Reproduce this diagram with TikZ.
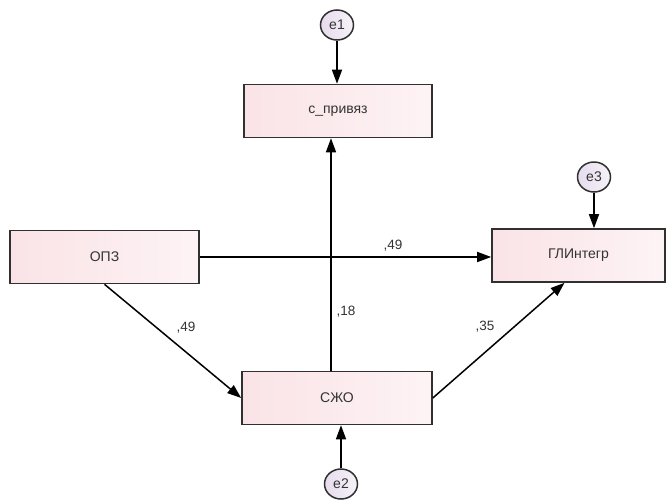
\documentclass[tikz,border=0pt]{standalone}
\usepackage{fontspec}
\setmainfont{Liberation Sans}
\usetikzlibrary{arrows.meta,shapes.geometric}
\definecolor{boxL}{HTML}{FAE3E6}
\definecolor{boxR}{HTML}{FDF3F5}
\definecolor{circL}{HTML}{E6DCEE}
\definecolor{circR}{HTML}{F6F2F8}
\definecolor{edge}{HTML}{303030}
\definecolor{txt}{HTML}{333333}
\tikzset{
  varbox/.style={draw=edge, line width=1.6pt, left color=boxL, right color=boxR,
    minimum width=#1, minimum height=53pt, inner sep=0pt, font=\fontsize{14}{16}\selectfont, text=txt},
  errnode/.style={ellipse, draw=edge, line width=1.5pt, left color=circL, right color=circR,
    minimum width=33pt, minimum height=30pt, inner sep=0pt, font=\fontsize{14}{16}\selectfont, text=txt},
  conn/.style={line width=1.5pt, -{Triangle[length=14pt,width=10pt]}},
  wlab/.style={font=\fontsize{13.5}{15}\selectfont, text=txt, inner sep=0pt}
}
\begin{document}
\begin{tikzpicture}[x=1pt,y=-1pt]
\useasboundingbox (0,0) rectangle (672,501);
\node[varbox=188pt] (cp) at (338,111) {c\_привяз};
\node[varbox=189pt] (opz) at (104.5,257) {ОПЗ};
\node[varbox=173pt] (gl) at (578.5,255.5) {ГЛИнтегр};
\node[varbox=190pt] (szo) at (337,398) {СЖО};
\node[errnode] (e1) at (337,25) {e1};
\node[errnode] (e2) at (341,484) {e2};
\node[errnode] (e3) at (594,177) {e3};

\draw[conn] (e1.south) -- (e1.south |- cp.north);
\draw[conn] (e2.north) -- (e2.north |- szo.south);
\draw[conn] (e3.south) -- (e3.south |- gl.north);
\draw[conn] (opz.east) -- (opz.east -| gl.west);
\draw[conn] (opz.south) -- (szo.west);
\draw[conn] ([xshift=-6pt]szo.north) -- ([xshift=-6pt]szo.north |- cp.south);
\draw[conn] (szo.east) -- ([xshift=-14pt]gl.south);

\node[wlab] (l1) at (393,246) {,49};
\node[wlab] (l2) at (186,328) {,49};
\node[wlab] (l3) at (346,312) {,18};
\node[wlab] (l4) at (485,327) {,35};
\end{tikzpicture}
\end{document}
